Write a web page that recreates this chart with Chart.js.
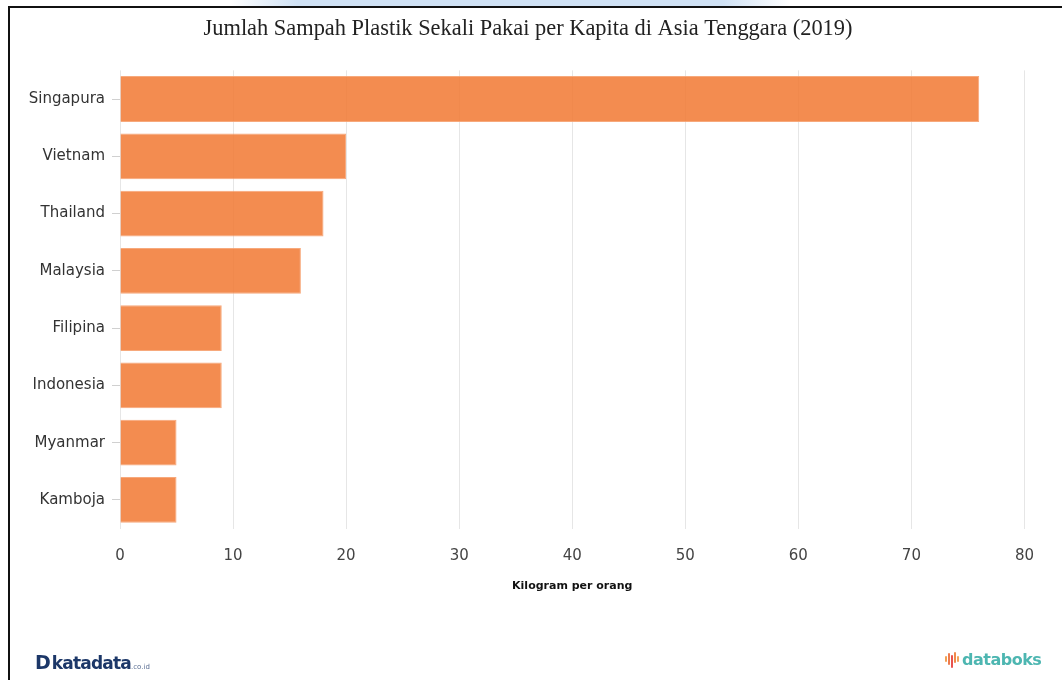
<!DOCTYPE html>
<html>
<head>
<meta charset="utf-8">
<script src="https://cdn.jsdelivr.net/npm/chart.js@4/dist/chart.umd.min.js"></script>
<style>
  html, body { margin: 0; padding: 0; background: #fff; }
  body { width: 1062px; height: 680px; position: relative; overflow: hidden; }
  #glow { position: absolute; left: 230px; top: 0; width: 560px; height: 6px;
          background: linear-gradient(90deg, rgba(200,220,242,0), #cfe1f4 12%, #cfe1f4 88%, rgba(200,220,242,0)); }
  #frameTop { position: absolute; left: 8px; top: 6px; right: 0; height: 2px; background: #111; }
  #frameLeft { position: absolute; left: 8px; top: 6px; bottom: 0; width: 2px; background: #111; }
  #wrap { position: absolute; left: 0; top: 0; width: 1053px; height: 680px; }
  .brand { position: absolute; font-family: "DejaVu Sans", sans-serif; font-weight: bold; }
  #katadata { left: 35px; top: 651px; color: #1c3768; font-size: 17px; letter-spacing: -0.8px; }
  #katadata .d { font-size: 19px; font-weight: 900; letter-spacing: 0; margin-right: 1px; }
  #katadata small { font-size: 7px; font-weight: normal; color: #5b6f93; letter-spacing: 0; }
  #databoks { left: 945px; top: 650px; color: #4db6b1; font-size: 16px; letter-spacing: -0.5px; }
  #databoks .ico { display: inline-block; position: relative; width: 16px; height: 16px; vertical-align: -3px; margin-right: 1px; }
  #databoks .ico i { position: absolute; width: 2px; border-radius: 1px; }
</style>
</head>
<body>
<div id="glow"></div>
<div id="wrap"><canvas id="chart" width="1053" height="680"></canvas></div>
<div id="frameTop"></div>
<div id="frameLeft"></div>
<div id="katadata" class="brand"><span class="d">D</span>katadata<small>.co.id</small></div>
<div id="databoks" class="brand"><span class="ico">
  <i style="left:0px;top:4px;height:6px;background:#f2a052"></i>
  <i style="left:3px;top:1px;height:12px;background:#ee7b4d"></i>
  <i style="left:6px;top:3px;height:13px;background:#e8534f"></i>
  <i style="left:9px;top:0px;height:11px;background:#f08a4b"></i>
  <i style="left:12px;top:4px;height:6px;background:#f5a55a"></i>
</span>databoks</div>
<script>
// Single-use plastic waste per capita, Southeast Asia (2019)
const countries = ["Singapura", "Vietnam", "Thailand", "Malaysia", "Filipina", "Indonesia", "Myanmar", "Kamboja"];
const kgPerPerson = [76, 20, 18, 16, 9, 9, 5, 5];
const xTicks = [0, 10, 20, 30, 40, 50, 60, 70, 80];

const chartTitle = "Jumlah Sampah Plastik Sekali Pakai per Kapita di Asia Tenggara (2019)";
const xAxisTitle = "Kilogram per orang";

const labelFont = { family: "'DejaVu Sans', Verdana, sans-serif", size: 15 };

new Chart(document.getElementById("chart"), {
  type: "bar",
  data: {
    labels: countries,
    datasets: [{
      data: kgPerPerson,
      backgroundColor: "rgba(241,120,49,0.85)",
      borderColor: "rgba(246,160,110,0.9)",
      borderWidth: 1,
      barPercentage: 0.8,
      categoryPercentage: 1.0
    }]
  },
  options: {
    indexAxis: "y",
    responsive: false,
    animation: false,
    layout: { padding: { left: 26, right: 23, top: 0, bottom: 87.4 } },
    plugins: {
      legend: { display: false },
      tooltip: { enabled: false },
      title: {
        display: true,
        text: chartTitle,
        color: "#222",
        font: { family: "'Liberation Serif', 'Times New Roman', serif", size: 22.4, weight: "normal" },
        padding: { top: 16, bottom: 27.5 }
      }
    },
    scales: {
      x: {
        min: 0,
        max: 80,
        afterBuildTicks: (scale) => { scale.ticks = xTicks.map(v => ({ value: v })); },
        afterFit: (scale) => { scale.height = 64; },
        grid: { color: "#e6e6e6", drawTicks: false },
        border: { display: false },
        ticks: { color: "#444", font: labelFont, padding: 19 },
        title: {
          display: true,
          text: xAxisTitle,
          color: "#111",
          font: { family: "'DejaVu Sans', Verdana, sans-serif", size: 11, weight: "bold" },
          padding: { top: 4, bottom: 0 }
        }
      },
      y: {
        afterFit: (scale) => { scale.width = 94; },
        grid: { offset: false, drawOnChartArea: false, drawTicks: true, tickLength: 8, color: "#d0d0d0" },
        border: { display: false },
        ticks: { color: "#333", font: labelFont, padding: 7 }
      }
    }
  }
});
</script>
</body>
</html>
